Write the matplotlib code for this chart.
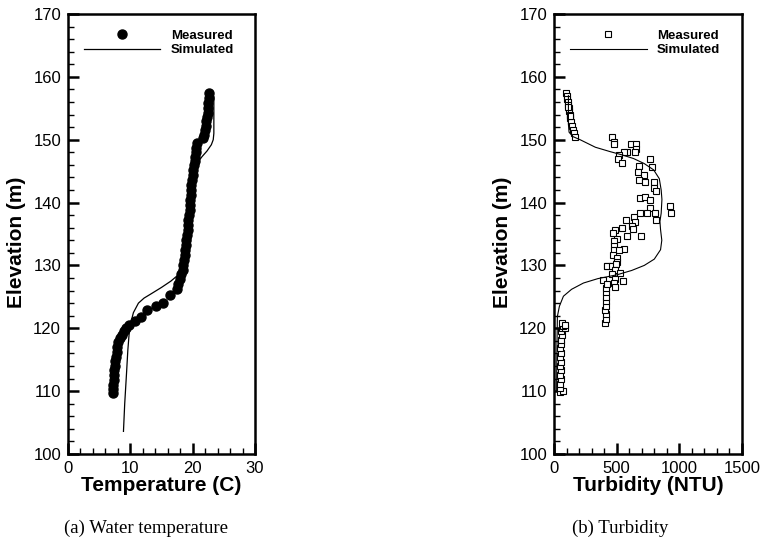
import matplotlib
matplotlib.use("Agg")
import matplotlib.pyplot as plt
from matplotlib.ticker import MultipleLocator

plt.rcParams['font.family'] = ['Liberation Sans', 'DejaVu Sans']

# (a) water temperature: measured profile
temp_meas = [22.7, 22.6, 22.5, 22.5, 22.4, 22.3, 22.2, 22.1, 22.0, 21.8, 21.7,
             20.7, 20.6, 20.5, 20.4, 20.3, 20.2, 20.1, 20.0, 19.9, 19.8, 19.7,
             19.7, 19.6, 19.5, 19.5, 19.4, 19.3, 19.3, 19.2, 19.1, 19.0, 18.9,
             18.8, 18.7, 18.6, 18.5, 18.4, 18.2, 18.0, 17.7, 17.5, 16.3, 15.3,
             14.1, 12.7, 11.7, 10.8, 9.8, 9.3, 9.0, 8.6, 8.3, 8.1, 7.9, 7.8,
             7.7, 7.6, 7.5, 7.4, 7.4, 7.4, 7.3, 7.3, 7.3]
elev_temp_meas = [157.5, 156.6, 155.8, 155.0, 154.3, 153.6, 152.9, 152.2, 151.5, 150.8, 150.3,
                  149.4, 148.7, 148.0, 147.3, 146.6, 145.9, 145.2, 144.4, 143.6, 142.8, 142.0,
                  141.2, 140.4, 139.6, 138.8, 138.0, 137.2, 136.4, 135.6, 134.8, 134.0, 133.2,
                  132.4, 131.6, 130.8, 130.0, 129.2, 128.6, 127.8, 127.0, 126.2, 125.3, 124.1,
                  123.5, 122.9, 121.8, 121.1, 120.6, 120.0, 119.6, 119.0, 118.5, 117.8, 117.1, 116.3,
                  115.5, 114.8, 114.0, 113.3, 112.5, 111.8, 111.0, 110.3, 109.7]

# (a) simulated
temp_sim = [8.9, 9.1, 9.4, 9.6, 9.8, 10.1, 10.5, 11.3, 12.2, 13.2, 15.0, 16.5, 17.7,
            18.5, 19.05, 19.5, 19.8, 20.0, 20.2, 20.5, 20.9, 21.5, 22.3, 23.0, 23.3,
            23.4, 23.4]
elev_temp_sim = [103.6, 108.0, 113.0, 116.5, 119.0, 121.0, 122.5, 124.0, 124.8, 125.4,
                 126.5, 127.5, 128.5, 129.6, 130.9, 132.5, 135.0, 138.0, 142.0, 145.0,
                 146.5, 147.3, 148.2, 149.2, 150.0, 151.0, 156.9]

# (b) turbidity: measured
turb_meas = [96, 100, 104, 108, 112, 116, 120, 124, 130, 136, 142, 150, 158, 168, 112, 128,
             464, 475, 478, 616, 656, 656, 581, 555, 643, 515, 512, 541, 768, 781, 675, 667,
             715, 675, 728, 800, 800, 816, 688, 728, 768, 763, 741, 808, 923, 933, 688, 816,
             635, 576, 650, 621, 629, 541, 488, 469, 581, 501, 480, 693, 475, 560, 475, 515,
             469, 501, 421, 469, 501,
             421, 461, 496, 488, 525, 461, 389, 488, 549, 480, 488,
             410, 412, 414, 410, 415, 412, 416, 413, 418, 420,
             45, 70, 50, 48, 52, 47, 55, 50, 53, 48, 56, 51, 58, 52, 60, 55, 65, 90, 75, 62, 85]
elev_turb_meas = [157.4, 157.0, 156.5, 156.0, 155.5, 155.0, 154.5, 154.0, 153.4, 152.8, 152.2,
                  151.6, 151.0, 150.5, 155.2, 153.8,
                  150.4, 149.7, 149.3, 149.3, 149.3, 148.5, 148.1, 148.1, 148.0, 147.6, 146.9,
                  146.3, 146.9, 145.6, 145.8, 144.9, 144.4, 143.6, 143.3, 143.2, 142.3, 141.8,
                  140.8, 140.9, 140.4, 139.1, 138.3, 138.3, 139.4, 138.3, 138.4, 137.2, 137.7,
                  137.2, 136.9, 136.2, 135.8, 135.9, 135.7, 135.1, 134.7, 134.2, 133.9, 134.7,
                  133.1, 132.6, 132.4, 132.4, 131.7, 131.2, 129.9, 129.9, 130.5,
                  129.9, 129.9, 130.3, 129.3, 128.8, 128.7, 127.7, 127.8, 127.6, 127.2, 126.6,
                  120.8, 121.5, 122.2, 122.9, 123.6, 124.3, 125.0, 125.7, 126.4, 127.0,
                  109.8, 110.0, 110.5, 111.2, 111.9, 112.6, 113.3, 114.0, 114.7, 115.4, 116.1,
                  116.8, 117.5, 118.2, 118.9, 119.5, 120.0, 120.0, 120.4, 120.8, 120.6]

# (b) simulated
turb_sim = [21, 22, 24, 27, 43, 75, 140, 235, 350, 501, 620, 720, 800, 850, 860, 850,
            845, 855, 861, 855, 840, 795, 720, 635, 540, 448, 330, 208, 150, 120, 115, 115]
elev_turb_sim = [110.0, 114.0, 118.0, 121.9, 123.5, 125.1, 126.2, 127.2, 127.9, 128.5,
                 129.2, 130.0, 131.0, 132.5, 134.0, 135.7, 137.0, 138.3, 140.5, 142.0,
                 143.8, 145.2, 146.2, 147.0, 147.6, 148.1, 148.8, 150.0, 150.5, 151.2,
                 152.5, 157.0]

fig = plt.figure(figsize=(7.63, 5.46), dpi=100)
ax1 = fig.add_axes([0.0891, 0.1685, 0.2451, 0.8059])
ax2 = fig.add_axes([0.7261, 0.1685, 0.2464, 0.8059])

ax1.plot(temp_meas, elev_temp_meas, 'o', color='black', markersize=6.5, label='Measured')
ax1.plot(temp_sim, elev_temp_sim, '-', color='black', linewidth=0.9, label='Simulated')
ax2.plot(turb_meas, elev_turb_meas, 's', markerfacecolor='white', markeredgecolor='black',
         markeredgewidth=0.8, markersize=5, label='Measured')
ax2.plot(turb_sim, elev_turb_sim, '-', color='black', linewidth=0.8, label='Simulated')

for ax, xmax, major, minor, xlab in [(ax1, 30, 10, 2, 'Temperature (C)'),
                                     (ax2, 1500, 500, 100, 'Turbidity (NTU)')]:
    ax.set_xlim(0, xmax)
    ax.set_ylim(100, 170)
    ax.xaxis.set_major_locator(MultipleLocator(major))
    ax.xaxis.set_minor_locator(MultipleLocator(minor))
    ax.yaxis.set_major_locator(MultipleLocator(10))
    ax.yaxis.set_minor_locator(MultipleLocator(2))
    ax.tick_params(which='major', direction='in', length=8, width=1.8, labelsize=12, pad=5)
    ax.tick_params(which='minor', direction='in', length=4, width=1.0)
    for s in ax.spines.values():
        s.set_linewidth(1.8)
    ax.set_xlabel(xlab, fontsize=15, fontweight='bold', labelpad=0)
    ax.set_ylabel('Elevation (m)', fontsize=15, fontweight='bold')
    ax.yaxis.set_label_coords(-0.225, 0.482)
    leg = ax.legend(loc='upper left', bbox_to_anchor=(0.085, 0.965), frameon=False,
                    numpoints=1, handlelength=5.8, handletextpad=0.8, labelspacing=0.2,
                    borderpad=0, borderaxespad=0, prop={'weight': 'bold', 'size': 9.5})

fig.text(146 / 763, 1 - 528 / 546, '(a) Water temperature', family='Liberation Serif',
         fontsize=13.5, ha='center', va='center')
fig.text(620 / 763, 1 - 528 / 546, '(b) Turbidity', family='Liberation Serif',
         fontsize=13.5, ha='center', va='center')

fig.savefig('out.png', dpi=100)
